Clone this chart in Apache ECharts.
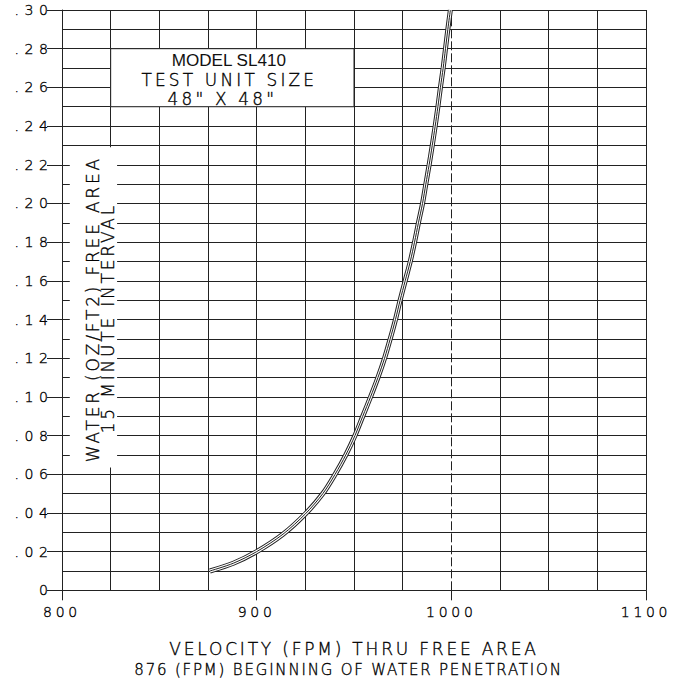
<!DOCTYPE html>
<html><head><meta charset="utf-8">
<script src="https://cdn.jsdelivr.net/npm/echarts@6/dist/echarts.min.js"></script>
<style>
html,body{margin:0;padding:0;background:#fff;}
#c{width:685px;height:683px;}
#c text[style*="14px"]{letter-spacing:3.7px;}
#c text[style*="14.1px"]{letter-spacing:5.5px;}
#c text[style*="17px"]{letter-spacing:2.8px;}
#c text[style*="16.9px"]{letter-spacing:3.2px;}
#c text[style*="15px"]{letter-spacing:1.8px;}
</style></head><body><div id="c"></div>
<script>
// Data
const velocity = [876, 888, 900, 913.5, 925, 934, 940.3, 945.8, 950.5, 954.5, 958.5, 962.3, 965.7, 968.6, 971.3, 973.7, 976.3, 978.9, 981.1, 983.1, 985.2, 986.9, 988.6, 990.2, 991.7, 993.1, 994.4, 995.8, 997, 998.2, 999.5];
const water = [0.010, 0.014, 0.020, 0.029, 0.0395, 0.050, 0.060, 0.070, 0.080, 0.090, 0.100, 0.110, 0.120, 0.130, 0.140, 0.150, 0.160, 0.170, 0.180, 0.190, 0.200, 0.210, 0.220, 0.230, 0.240, 0.250, 0.260, 0.270, 0.280, 0.290, 0.300];
const xTickLabels = ['800', '900', '1000', '1100'];
const yTickLabels = ['0', '.02', '.04', '.06', '.08', '.10', '.12', '.14', '.16', '.18', '.20', '.22', '.24', '.26', '.28', '.30'];
const xTitle = 'VELOCITY (FPM) THRU FREE AREA';
const xSubtitle = '876 (FPM) BEGINNING OF WATER PENETRATION';
const yTitle1 = 'WATER (OZ/FT2) FREE AREA';
const yTitle2 = '15 MINUTE INTERVAL';
const boxLines = ['MODEL SL410', 'TEST UNIT SIZE', '48" X 48"'];

const points = velocity.map((v, i) => [v, water[i]]);
const ink = '#222';
const txt = '#000';
const cad = 'DejaVu Sans';
const cadStyle = (size, extra) => Object.assign({
  fontFamily: cad, fontWeight: 200, fontSize: size, color: txt,
  textBorderColor: txt, textBorderWidth: 0.35
}, extra || {});

const chart = echarts.init(document.getElementById('c'), null, {renderer: 'svg'});
const lineSeries = (w, color, z) => ({
  type: 'line', data: points, showSymbol: false, smooth: 0.3, z: z,
  lineStyle: {width: w, color: color, cap: 'butt'}, silent: true
});
const s0 = lineSeries(5, ink, 5);
s0.markLine = {
  silent: true, symbol: ['none', 'none'], label: {show: false},
  lineStyle: {color: ink, width: 1, type: [9, 3]},
  data: [{xAxis: 1000}]
};
s0.markArea = {
  silent: true,
  data: [
    [{xAxis: 825, yAxis: 0.28,
      itemStyle: {color: '#fff', opacity: 1, borderColor: ink, borderWidth: 1},
      label: {show: true, position: 'inside', color: txt, offset: [0, 2],
        formatter: () => '{m|' + boxLines[0] + '}\n{t|' + boxLines[1] + '}\n{s|' + boxLines[2] + '}',
        rich: {
          m: {fontFamily: 'Liberation Sans', fontSize: 17.1, lineHeight: 19, color: '#111', padding: [0, 7, 0, 0]},
          t: cadStyle(16.9, {lineHeight: 19, padding: [0, 6, 0, 0]}),
          s: cadStyle(16.9, {lineHeight: 19, padding: [0, 20, 0, 0]})
        }}},
     {xAxis: 950, yAxis: 0.25}],
    [{xAxis: 804, yAxis: 0.229, itemStyle: {color: '#fff', opacity: 1, borderWidth: 0}, label: {show: false}},
     {xAxis: 828.3, yAxis: 0.0635}]
  ]
};

chart.setOption({
  animation: false,
  backgroundColor: '#fff',
  grid: {left: 62, right: 39, top: 10, bottom: 91},
  xAxis: {
    type: 'value', min: 800, max: 1100, interval: 100,
    axisLine: {show: true, lineStyle: {color: ink, width: 1}},
    axisTick: {show: true, length: 10, lineStyle: {color: ink}},
    minorTick: {show: false, splitNumber: 4},
    axisLabel: cadStyle(14, {margin: 15,
      formatter: v => xTickLabels[Math.round((v - 800) / 100)]}),
    splitLine: {show: true, lineStyle: {color: [ink, ink, 'rgba(0,0,0,0)', ink], width: 1}},
    minorSplitLine: {show: true, lineStyle: {color: ink, width: 1}},
    name: '{a|' + xTitle + '}\n{b|' + xSubtitle + '}',
    nameLocation: 'middle', nameGap: 48.5,
    nameTextStyle: {rich: {
      a: cadStyle(17, {lineHeight: 21}),
      b: cadStyle(15, {lineHeight: 21, padding: [0, 11, 0, 0]})
    }}
  },
  yAxis: [{
    type: 'value', min: 0, max: 0.30, interval: 0.02,
    axisLine: {show: true, lineStyle: {color: ink, width: 1}},
    axisTick: {show: true, length: 15, lineStyle: {color: ink}},
    minorTick: {show: false, splitNumber: 2},
    axisLabel: cadStyle(14.1, {margin: 8.5,
      formatter: v => yTickLabels[Math.round(v / 0.02)]}),
    splitLine: {show: true, lineStyle: {color: ink, width: 1}},
    minorSplitLine: {show: true, lineStyle: {color: ink, width: 1}}
  }, {
    type: 'value', min: 0, max: 0.30, interval: 0.02, position: 'left', z: 20,
    axisLine: {show: false}, axisTick: {show: false}, axisLabel: {show: false},
    splitLine: {show: false},
    name: '{a|' + yTitle1 + '}\n{b|' + yTitle2 + '}',
    nameLocation: 'middle', nameRotate: 90, nameGap: -53.5,
    nameTextStyle: {rich: {
      a: cadStyle(17, {lineHeight: 15, padding: [0, 18, 0, 0]}),
      b: cadStyle(17, {lineHeight: 15, padding: [0, 36, 0, 0]})
    }}
  }],
  series: [s0, lineSeries(3, '#fff', 6), lineSeries(1, ink, 7)]
});
</script></body></html>
